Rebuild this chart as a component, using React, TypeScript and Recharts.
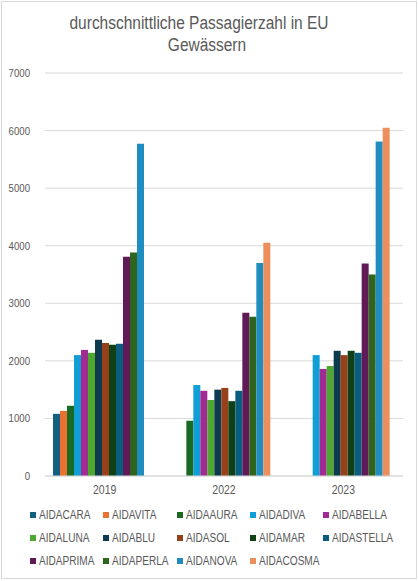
import { Bar, BarChart, CartesianGrid, XAxis, YAxis } from "recharts";

// Category labels (years) and one value list per ship (null = not in service).
const YEARS = ["2019", "2022", "2023"];
const SHIPS = [
  "AIDACARA", "AIDAVITA", "AIDAAURA", "AIDADIVA", "AIDABELLA",
  "AIDALUNA", "AIDABLU", "AIDASOL", "AIDAMAR", "AIDASTELLA",
  "AIDAPRIMA", "AIDAPERLA", "AIDANOVA", "AIDACOSMA",
];
const AIDACARA = [1080, null, null];
const AIDAVITA = [1130, null, null];
const AIDAAURA = [1220, 960, null];
const AIDADIVA = [2100, 1580, 2100];
const AIDABELLA = [2190, 1480, 1860];
const AIDALUNA = [2140, 1320, 1910];
const AIDABLU = [2365, 1500, 2175];
const AIDASOL = [2310, 1530, 2100];
const AIDAMAR = [2280, 1300, 2175];
const AIDASTELLA = [2295, 1480, 2140];
const AIDAPRIMA = [3810, 2835, 3690];
const AIDAPERLA = [3880, 2765, 3500];
const AIDANOVA = [5770, 3700, 5810];
const AIDACOSMA = [null, 4050, 6050];
const Y_TICKS = [0, 1000, 2000, 3000, 4000, 5000, 6000, 7000];

const SERIES = [
  AIDACARA, AIDAVITA, AIDAAURA, AIDADIVA, AIDABELLA, AIDALUNA, AIDABLU,
  AIDASOL, AIDAMAR, AIDASTELLA, AIDAPRIMA, AIDAPERLA, AIDANOVA, AIDACOSMA,
];

// Office-style accent palette (plus darker / lighter variants)
const COLORS = [
  "#156082", "#e97132", "#196b24", "#0f9ed5", "#a02b93", "#4ea72e",
  "#0d3a4e", "#96411a", "#0f4016", "#095e80", "#601a58", "#2f641c",
  "#1f8dc0", "#ed8f5c",
];

// no narrow face installed -> squeeze Liberation Sans horizontally
const FONT = "'Liberation Sans', Arial, sans-serif";
const SQUEEZE = 0.84;
const TEXT = "#595959";
const GRID = "#d9d9d9";

const rows = YEARS.map((year, i) => {
  const row: Record<string, string | number | null> = { year };
  SHIPS.forEach((s, k) => (row[s] = SERIES[k][i]));
  return row;
});

function NarrowTick({ x, y, payload, anchor, dy, size }: any) {
  return (
    <text
      transform={`translate(${x},${y}) scale(${SQUEEZE},1)`}
      textAnchor={anchor}
      dy={dy}
      fontSize={size}
      fill={TEXT}
      fontFamily={FONT}
    >
      {payload.value}
    </text>
  );
}

export default function App() {
  return (
    <div style={{ position: "absolute", left: 0, top: 0, width: 418, height: 581, fontFamily: FONT, background: "#fff" }}>
      <div
        style={{
          position: "absolute",
          left: 1,
          top: 1,
          width: 414,
          height: 576,
          border: `1px solid ${GRID}`,
        }}
      />
      <div style={{ position: "absolute", left: 0, width: 398, top: 12, textAlign: "center", fontSize: 18, color: TEXT, lineHeight: "22px", transform: `scaleX(0.86)` }}>
        durchschnittliche Passagierzahl in EU
      </div>
      <div style={{ position: "absolute", left: 0, width: 414, top: 34, textAlign: "center", fontSize: 18, color: TEXT, lineHeight: "22px", transform: `scaleX(0.86)` }}>
        Gewässern
      </div>
      <div style={{ position: "absolute", left: 0, top: 0 }}>
        <BarChart
          width={418}
          height={581}
          data={rows}
          margin={{ top: 73, right: 15, bottom: 80, left: 0 }}
          barGap={0}
          barCategoryGap={8}
        >
          <CartesianGrid stroke={GRID} vertical={false} />
          <XAxis
            dataKey="year"
            height={25}
            tickLine={false}
            axisLine={{ stroke: GRID }}
            tickSize={0}
            tickMargin={9}
            tick={(p: any) => <NarrowTick {...p} anchor="middle" dy={9} size={12.5} />}
          />
          <YAxis
            width={45}
            domain={[0, 7000]}
            ticks={Y_TICKS}
            axisLine={false}
            tickLine={false}
            tickSize={0}
            tickMargin={15}
            tick={(p: any) => <NarrowTick {...p} anchor="end" dy={4} size={11.5} />}
          />
          {SHIPS.map((s, k) => (
            <Bar key={s} dataKey={s} fill={COLORS[k]} isAnimationActive={false} />
          ))}
        </BarChart>
      </div>
      {SHIPS.map((s, k) => (
        <div
          key={s}
          style={{
            position: "absolute",
            left: 30 + (k % 5) * 73.3,
            top: 507 + Math.floor(k / 5) * 23,
            height: 16,
            display: "flex",
            alignItems: "center",
            fontSize: 12,
            color: TEXT,
            whiteSpace: "nowrap",
          }}
        >
          <span style={{ width: 6, height: 6, background: COLORS[k], marginRight: 3, flexShrink: 0 }} />
          <span style={{ display: "inline-block", transform: `scaleX(${SQUEEZE})`, transformOrigin: "left center" }}>{s}</span>
        </div>
      ))}
    </div>
  );
}
